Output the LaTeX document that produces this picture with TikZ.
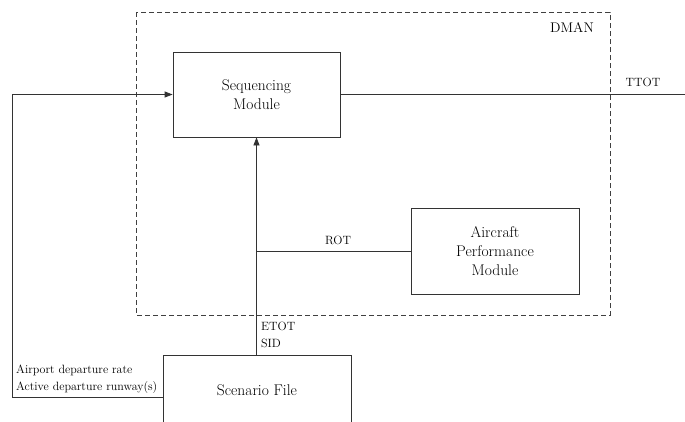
\documentclass[tikz,border=0pt]{standalone}
\usetikzlibrary{arrows.meta}
\tikzset{
  box/.style={draw=black!80, line width=0.8pt, inner sep=0pt, align=center, font=\fontsize{15.5}{19}\selectfont},
  lbl/.style={inner sep=0pt, font=\fontsize{12}{17}\selectfont},
  conn/.style={draw=black!80, line width=0.8pt},
  arr/.style={conn, -{Triangle[length=8pt,width=6pt]}},
  dmanbox/.style={draw=black!75, line width=0.8pt, dash pattern=on 5pt off 3pt}
}
\begin{document}
\begin{tikzpicture}[x=1pt,y=-1pt]
\clip (0,0) rectangle (685,421);
\path[use as bounding box] (0,0) rectangle (685,421);
\draw[dmanbox] (136,12) rectangle (610,315);
\node[lbl, font=\fontsize{14}{17}\selectfont] (dman) at (572,27) {DMAN};
\node[box, minimum width=167pt, minimum height=85pt] (seq) at (256.5,94.5) {Sequencing\\Module};
\node[box, minimum width=168pt, minimum height=86pt] (air) at (495,251) {Aircraft\\Performance\\Module};
\node[box, minimum width=188pt, minimum height=70pt] (scen) at (257,390) {Scenario File};
\coordinate (tout) at (686,94.5);
\coordinate (fbl) at (12,397);
\coordinate (fbt) at (12,94.5);
\path[conn] (seq.east) -- (tout);
\node[lbl] (ttot) at (643,82) {TTOT};
\path[arr] (seq.south |- scen.north) -- (seq.south);
\coordinate (rj) at (seq.south |- air.west);
\path[conn] (air.west) -- (rj);
\node[lbl] (rot) at (338,240) {ROT};
\node[lbl, anchor=west, align=left] (etot) at (261,334.5) {ETOT\\SID};
\path[arr] ([yshift=-7pt]scen.west) -- (fbl) -- (fbt) -- (seq.west);
\node[lbl, anchor=west, align=left] (ap) at (16,379.5) {Airport departure rate\\Active departure runway(s)};
\end{tikzpicture}
\end{document}
